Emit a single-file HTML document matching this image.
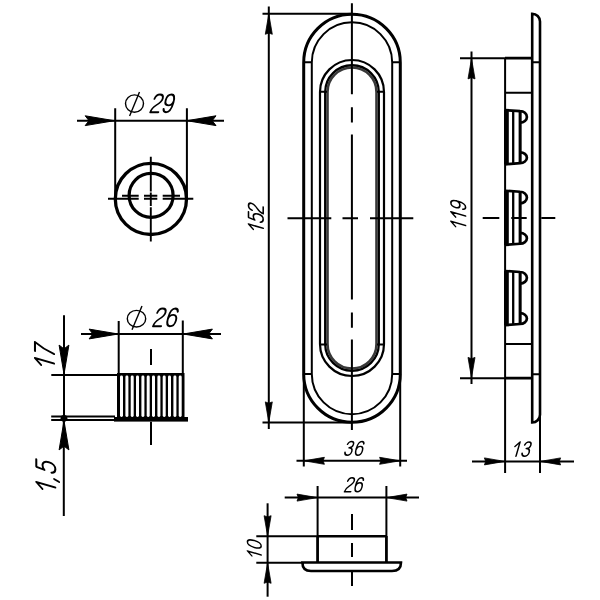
<!DOCTYPE html>
<html><head><meta charset="utf-8">
<style>
html,body{margin:0;padding:0;background:#fff;width:600px;height:600px;overflow:hidden}
svg{display:block}
text{font-family:"Liberation Sans",sans-serif;font-style:italic;fill:#000}
</style></head><body>
<svg width="600" height="600" viewBox="0 0 600 600">
<defs>
<path id="aA" d="M-0.5,0 L-29.6,-4.9 L-25.8,0 L-29.6,4.9 Z" stroke="#000" stroke-width="1" stroke-linejoin="round"/>
<path id="aB" d="M-0.3,0 L-20.6,-3.5 L-19.3,0 L-20.6,3.5 Z" stroke="#000" stroke-width="0.8" stroke-linejoin="round"/>
</defs>
<rect width="600" height="600" fill="#fff"/>
<g fill="none" stroke="#000" stroke-linecap="butt">

<!-- ===== top-left circle view ===== -->
<g stroke-width="2">
<path d="M77,120.7 H224"/>
<path d="M115.2,108.3 V199 M186.9,108.3 V199"/>
</g>
<circle cx="150.9" cy="198.9" r="35.6" stroke-width="3.3"/>
<circle cx="151.1" cy="195.4" r="22" stroke-width="3.2"/>
<g stroke-width="1.9">
<path d="M150.8,156.7 V191.4 M150.8,192.6 V206.1 M150.8,207.3 V241.4"/>
<path d="M108,198.7 H138.7 M144,198.7 H157.3 M162.7,198.7 H193.3"/>
<path d="M122,195.7 H138.7 M144,195.7 H157.3 M162.7,195.7 H180"/>
</g>
<ellipse cx="134.5" cy="103.6" rx="9" ry="8.7" stroke-width="1.4"/>
<path d="M139.5,92 L129.6,115.9" stroke-width="1.4"/>

<!-- ===== front oval ===== -->
<path d="M303.7,62.5 A48.3,48.3 0 0 1 400.3,62.5 V374 A48.3,48.3 0 0 1 303.7,374 Z" stroke-width="3"/>
<path d="M311.8,62.5 A40.2,40.2 0 0 1 392.2,62.5 V374 A40.2,40.2 0 0 1 311.8,374 Z" stroke-width="2"/>
<path d="M320,92 A32,32 0 0 1 384,92 V344 A32,32 0 0 1 320,344 Z" stroke-width="2.2"/>
<path d="M325.2,92 A26.8,26.8 0 0 1 378.8,92 V344 A26.8,26.8 0 0 1 325.2,344 Z" stroke-width="2.3"/>
<path d="M327.5,92 A24.5,24.5 0 0 1 376.5,92 V344 A24.5,24.5 0 0 1 327.5,344 Z" stroke-width="2.6" stroke="#383838"/>
<g stroke-width="2">
<path d="M303.7,62.3 H311.8 M392.2,62.3 H400.3 M303.7,374 H311.8 M392.2,374 H400.3"/>
<path d="M320,91.8 H327 M377,91.8 H384 M320,344.5 H327 M377,344.5 H384"/>
<path d="M351.9,3.3 V94.3 M351.9,107.3 V122.5 M351.9,134.4 V299.5 M351.9,312.5 V327.7 M351.9,339.6 V430"/>
<path d="M287.5,218.3 H331.3 M342.5,218.3 H358 M370,218.3 H413.3"/>
<path d="M268.8,6.5 V429"/>
<path d="M262.5,13.7 H352 M262.5,422.4 H352"/>
<path d="M303.8,374 V466.5 M400.2,374 V466.5"/>
<path d="M296.5,460.8 H407"/>
</g>

<!-- ===== right profile ===== -->
<path d="M532.2,422.5 V13.7 A7.8,7.8 0 0 1 540,21.5 V414.7 A7.8,7.8 0 0 1 532.2,422.5 Z" stroke-width="2.6"/>
<g stroke-width="2">
<path d="M540,414 V473 M505.1,378 V473"/>
<path d="M532.2,62.3 H540 M532.2,374.2 H540"/>
<path d="M460,58.2 H505 M460,378.2 H505"/>
<path d="M505.1,58.2 V378.2"/>
<path d="M505,92.7 H532 M505,344 H532"/>
<path d="M482.7,218 H499.3 M511.3,218 H526.7 M541.3,218 H555.3"/>
<path d="M471.5,51.5 V384"/>
<path d="M472,461.4 H574"/>
</g>
<path d="M505,58.2 H532.2 M505,378.2 H532.2" stroke-width="2.8"/>

<!-- ===== bottom view ===== -->
<g stroke-width="2">
<path d="M317.6,486 V562 M386.4,486 V562"/>
<path d="M352,514 V530 M352,543 V557 M352,572 V586"/>
<path d="M284.7,497.6 H419"/>
<path d="M267.6,503.3 V596.7"/>
<path d="M256.3,536.3 H317.6 M256.3,562.7 H302.4"/>
</g>
<path d="M317.6,536.2 H386.4 M317.6,536 V562 M386.4,536 V562" stroke-width="2.6"/>
<path d="M302.4,562.5 H401 C401,568 398,571 392,571 H311 C305,571 302.4,568 302.4,562.5 Z" stroke-width="2.6"/>

<!-- ===== knob side ===== -->
<g stroke-width="2">
<path d="M81,334 H221"/>
<path d="M118.7,321 V374 M182.8,320.6 V374"/>
<path d="M151,349 V365 M151,421.7 V445"/>
<path d="M51.3,375 H117"/>
<path d="M51.2,416.6 H115 M51.2,420.1 H115"/>
<path d="M64,315.3 V418 M63.8,418 V516"/>
</g>
<ellipse cx="136.5" cy="318.7" rx="9.2" ry="8.3" stroke-width="1.4"/>
<path d="M142,306 L132,329.8" stroke-width="1.4"/>
</g>

<!-- fills -->
<g fill="#000" stroke="none">
<!-- arrows top-left -->
<use href="#aA" transform="translate(114.8,120.7)"/>
<use href="#aA" transform="translate(186.4,120.7) rotate(180)"/>
<!-- 152 -->
<use href="#aB" transform="translate(268.8,13.7) rotate(-90)"/>
<use href="#aB" transform="translate(268.8,422.5) rotate(90)"/>
<!-- 36 -->
<use href="#aB" transform="translate(303.8,460.8) rotate(180)"/>
<use href="#aB" transform="translate(400.2,460.8)"/>
<!-- 119 -->
<use href="#aB" transform="translate(471.5,58.3) rotate(-90)"/>
<use href="#aB" transform="translate(471.5,378) rotate(90)"/>
<!-- 13 -->
<use href="#aB" transform="translate(505,461.4)"/>
<use href="#aB" transform="translate(540,461.4) rotate(180)"/>
<!-- 26 bottom -->
<use href="#aB" transform="translate(317.6,497.6)"/>
<use href="#aB" transform="translate(386.4,497.6) rotate(180)"/>
<!-- 10 -->
<use href="#aB" transform="translate(267.6,536.3) rotate(90)"/>
<use href="#aB" transform="translate(267.6,562.7) rotate(-90)"/>
<!-- knob dims -->
<use href="#aA" transform="translate(118.7,334)"/>
<use href="#aA" transform="translate(182.8,334) rotate(180)"/>
<use href="#aA" transform="translate(64,374.7) rotate(90)"/>
<use href="#aA" transform="translate(64,420.3) rotate(-90)"/>
<circle cx="64" cy="418.3" r="3.4"/>
<!-- knob body -->
<rect x="117" y="373" width="67.5" height="45"/>
<rect x="114" y="417" width="74" height="4.6"/>
</g>
<g fill="#fff">
<rect x="120" y="375.5" width="3" height="41.5" rx="1.4"/>
<rect x="125.4" y="375.5" width="3" height="41.5" rx="1.4"/>
<rect x="130.7" y="375.5" width="3" height="41.5" rx="1.4"/>
<rect x="136" y="375.5" width="3" height="41.5" rx="1.4"/>
<rect x="141.4" y="375.5" width="3" height="41.5" rx="1.4"/>
<rect x="146.7" y="375.5" width="3" height="41.5" rx="1.4"/>
<rect x="152" y="375.5" width="3" height="41.5" rx="1.4"/>
<rect x="157.4" y="375.5" width="3" height="41.5" rx="1.4"/>
<rect x="162.7" y="375.5" width="3" height="41.5" rx="1.4"/>
<rect x="168" y="375.5" width="3" height="41.5" rx="1.4"/>
<rect x="173.4" y="375.5" width="3" height="41.5" rx="1.4"/>
<rect x="178.7" y="375.5" width="3" height="41.5" rx="1.4"/>
</g>

<!-- clips on right profile -->
<g id="clip1">
<rect x="504" y="110" width="4.8" height="54.4" fill="#000"/>
<path d="M505,110.1 L520.1,111.1 A6.8,5.8 0 0 1 520.1,122.7 M520.1,152.3 A6.8,5.4 0 0 1 520.1,163.1 L505,164.3" fill="none" stroke="#000" stroke-width="2.7"/>
<path d="M513.2,110.5 V164 M520.1,110.8 V163.5" stroke="#000" stroke-width="2.3" fill="none"/>
<path d="M520.1,110.8 V163.5" stroke="#000" stroke-width="2.9" fill="none"/>
</g>
<use href="#clip1" transform="translate(0,80.65)"/>
<use href="#clip1" transform="translate(0,160.9)"/>

<g fill="none" stroke="#000" stroke-width="1.6" stroke-linecap="round" stroke-linejoin="round" style="vector-effect:non-scaling-stroke"><defs><path id="g1" d="M4,-15 V0 M4,-15 L0,-10.2"/><path id="g2" d="M0.3,-11.3 C0.6,-13.9 2.1,-15 3.8,-15 C5.9,-15 7.2,-13.7 7.2,-11.5 C7.2,-9.2 5.4,-7.6 3.4,-6 C1.4,-4.4 0,-2.6 0,0 H6.8"/><path id="g3" d="M0.3,-11.8 C0.8,-14 2.2,-15 3.7,-15 C5.6,-15 6.8,-13.8 6.8,-11.6 C6.8,-9.4 5.3,-8.1 3,-8.1 M3,-8.1 C5.6,-8.1 7.2,-6.5 7.2,-4 C7.2,-1.5 5.6,0 3.5,0 C1.6,0 0.4,-1.1 0,-3.2"/><path id="g5" d="M7.2,-15 H1.4 L0.7,-8.6 C1.6,-9.6 2.8,-10.1 4,-10.1 C6.2,-10.1 7.7,-8.1 7.7,-5 C7.7,-1.8 6,0 3.8,0 C1.9,0 0.5,-1 0,-3"/><path id="g6" d="M6.8,-12.2 C6.4,-14.2 5.2,-15 3.8,-15 C1.4,-15 0,-12.2 0,-7.2 C0,-2.4 1.4,0 3.6,0 C5.8,0 7.3,-1.9 7.3,-4.9 C7.3,-7.8 5.7,-9.6 3.7,-9.6 C1.8,-9.6 0.3,-8.3 0.1,-5.8"/><path id="g9" d="M0.3,-2.8 C0.7,-0.8 1.9,0 3.3,0 C5.7,0 7.1,-2.8 7.1,-7.8 C7.1,-12.6 5.7,-15 3.5,-15 C1.4,-15 0,-13.2 0,-10.3 C0,-7.5 1.5,-5.8 3.5,-5.8 C5.3,-5.8 6.8,-7 7,-9.4"/><path id="g0" d="M3.7,-15 C1.35,-15 0,-12 0,-7.5 C0,-3 1.35,0 3.7,0 C6.05,0 7.4,-3 7.4,-7.5 C7.4,-12 6.05,-15 3.7,-15 Z"/><path id="g7" d="M0,-15 H7 C5,-11.5 2.8,-5.5 1.9,0"/><path id="gc" d="M1.3,-0.9 L0.2,2.9"/></defs>
<g transform="translate(150.28,112.20) scale(1.1800) skewX(-16)"><use href="#g2" x="0.00"/><use href="#g9" x="10.16"/></g>
<g transform="translate(153.04,326.20) scale(1.1800) skewX(-16)"><use href="#g2" x="0.00"/><use href="#g6" x="10.71"/></g>
<g transform="translate(344.10,455.20) scale(0.9200) skewX(-16)"><use href="#g3" x="0.00"/><use href="#g6" x="11.17"/></g>
<g transform="translate(512.18,456.20) scale(0.9500) skewX(-16)"><use href="#g1" x="0.00"/><use href="#g3" x="9.49"/></g>
<g transform="translate(344.42,491.70) scale(0.9300) skewX(-16)"><use href="#g2" x="0.00"/><use href="#g6" x="10.13"/></g>
<g transform="translate(263.20,232.16) rotate(-90) scale(0.9800) skewX(-16)"><use href="#g1" x="0.00"/><use href="#g5" x="9.28"/><use href="#g2" x="18.83"/></g>
<g transform="translate(465.58,229.46) rotate(-90) scale(0.9800) skewX(-16)"><use href="#g1" x="0.00"/><use href="#g1" x="9.76"/><use href="#g9" x="19.51"/></g>
<g transform="translate(261.20,558.58) rotate(-90) scale(0.9200) skewX(-16)"><use href="#g1" x="0.00"/><use href="#g0" x="10.00"/></g>
<g transform="translate(54.02,368.64) rotate(-90) scale(1.2700) skewX(-16)"><use href="#g1" x="0.00"/><use href="#g7" x="9.62"/></g>
<g transform="translate(55.34,492.56) rotate(-90) scale(1.2700) skewX(-16)"><use href="#g1" x="0.00"/><use href="#gc" x="9.07"/><use href="#g5" x="14.69"/></g></g>

</svg>
</body></html>
